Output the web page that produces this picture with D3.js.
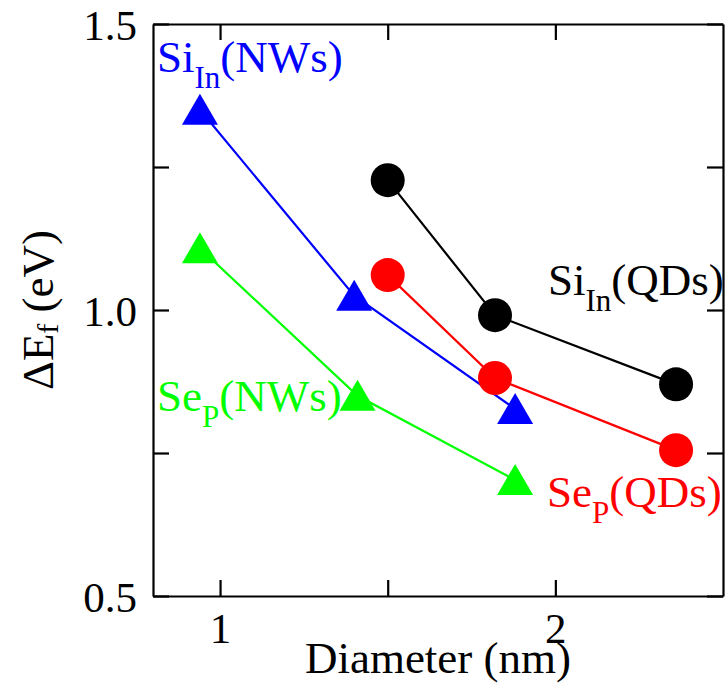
<!DOCTYPE html>
<html>
<head>
<meta charset="utf-8">
<script src="https://cdn.jsdelivr.net/npm/d3@7"></script>
</head>
<body style="margin:0">
<svg id="chart" width="725" height="699" style="display:block"></svg>
<script>
// ---- data ----
const siNWsX = [0.94, 1.40, 1.88];
const siNWsY = [1.350, 1.025, 0.827];
const seNWsX = [0.94, 1.41, 1.88];
const seNWsY = [1.108, 0.850, 0.703];
const siQDsX = [1.50, 1.82, 2.36];
const siQDsY = [1.227, 0.991, 0.870];
const seQDsX = [1.50, 1.82, 2.36];
const seQDsY = [1.061, 0.881, 0.755];

const xTicks = [1, 1.5, 2];
const xTickLabels = ["1", "", "2"];
const yTicks = [0.5, 0.75, 1.0, 1.25, 1.5];
const yTickLabels = ["0.5", "", "1.0", "", "1.5"];

const xLabel = "Diameter (nm)";

// ---- layout ----
const FONT = "Liberation Serif";
const W = 725, H = 699;
const margin = { left: 153, right: 2, top: 24, bottom: 103 };
const svg = d3.select("#chart");

const x = d3.scaleLinear().domain([0.8, 2.5]).range([margin.left, W - margin.right]);
const y = d3.scaleLinear().domain([0.5, 1.5]).range([H - margin.bottom, margin.top]);

const series = [
  { xs: siQDsX, ys: siQDsY, color: "#000000", shape: "circle" },
  { xs: seQDsX, ys: seQDsY, color: "#ff0000", shape: "circle" },
  { xs: seNWsX, ys: seNWsY, color: "#00ff00", shape: "triangle" },
  { xs: siNWsX, ys: siNWsY, color: "#0000ff", shape: "triangle" }
];

// ---- axes ----
const tickFont = 43;
const axisStyle = g => {
  g.attr("font-family", null).attr("font-size", null);
  g.select(".domain").attr("stroke", "#000").attr("stroke-width", 2.2);
  g.selectAll(".tick line").attr("stroke", "#000").attr("stroke-width", 2.2);
  g.selectAll(".tick text").attr("fill", "#000")
    .style("font-size", tickFont + "px").style("font-family", FONT);
};

svg.append("g")
  .attr("transform", `translate(0,${y(0.5)})`)
  .call(d3.axisBottom(x).tickValues(xTicks).tickSize(-16).tickSizeOuter(0).tickPadding(16)
    .tickFormat((d, i) => xTickLabels[i]))
  .call(axisStyle);

svg.append("g")
  .attr("transform", `translate(0,${y(1.5)})`)
  .call(d3.axisTop(x).tickValues(xTicks).tickSize(-16).tickSizeOuter(0).tickFormat(""))
  .call(axisStyle);

svg.append("g")
  .attr("transform", `translate(${x(0.8)},0)`)
  .call(d3.axisLeft(y).tickValues(yTicks).tickSize(-16).tickSizeOuter(0).tickPadding(16)
    .tickFormat((d, i) => yTickLabels[i]))
  .call(axisStyle)
  .call(g => g.selectAll(".tick text").attr("dy", "0.35em"));

svg.append("g")
  .attr("transform", `translate(${x(2.5)},0)`)
  .call(d3.axisRight(y).tickValues(yTicks).tickSize(-16).tickSizeOuter(0).tickFormat(""))
  .call(axisStyle);

// ---- lines ----
const line = d3.line().x(d => x(d[0])).y(d => y(d[1]));
series.forEach(s => {
  const pts = s.xs.map((v, i) => [v, s.ys[i]]);
  svg.append("path")
    .datum(pts)
    .attr("d", line)
    .attr("fill", "none")
    .attr("stroke", s.color)
    .attr("stroke-width", 2.2);
});

// ---- markers ----
series.forEach(s => {
  const pts = s.xs.map((v, i) => [v, s.ys[i]]);
  const g = svg.append("g");
  if (s.shape === "circle") {
    g.selectAll("circle").data(pts).join("circle")
      .attr("cx", d => x(d[0])).attr("cy", d => y(d[1]))
      .attr("r", 17).attr("fill", s.color);
  } else {
    g.selectAll("path").data(pts).join("path")
      .attr("transform", d => `translate(${x(d[0])},${y(d[1])})`)
      .attr("d", "M-18,15L18,15L0,-16Z")
      .attr("fill", s.color);
  }
});

// ---- annotations ----
function subLabel(px, py, main, sub, rest, color) {
  const t = svg.append("text").attr("x", px).attr("y", py)
    .attr("fill", color).style("font-size", "45px").style("font-family", FONT);
  t.append("tspan").text(main);
  t.append("tspan").style("font-size", "31px").attr("dy", 16).text(sub);
  t.append("tspan").attr("dy", -16).text(rest);
}
subLabel(157, 72, "Si", "In", "(NWs)", "#0000ff");
subLabel(548, 295, "Si", "In", "(QDs)", "#000000");
subLabel(157, 411, "Se", "P", "(NWs)", "#00ff00");
subLabel(547, 507, "Se", "P", "(QDs)", "#ff0000");

// ---- axis titles ----
svg.append("text")
  .attr("x", (x(0.8) + x(2.5)) / 2).attr("y", 673)
  .attr("text-anchor", "middle").attr("fill", "#000")
  .style("font-size", "45px").style("font-family", FONT)
  .text(xLabel);

const yl = svg.append("text")
  .attr("transform", `translate(53,${(y(0.5) + y(1.5)) / 2}) rotate(-90)`)
  .attr("text-anchor", "middle").attr("fill", "#000")
  .style("font-size", "45px").style("font-family", FONT);
yl.append("tspan").text("ΔE");
yl.append("tspan").style("font-size", "30px").attr("dy", 5).text("f");
yl.append("tspan").attr("dy", -5).text(" (eV)");
</script>
</body>
</html>
